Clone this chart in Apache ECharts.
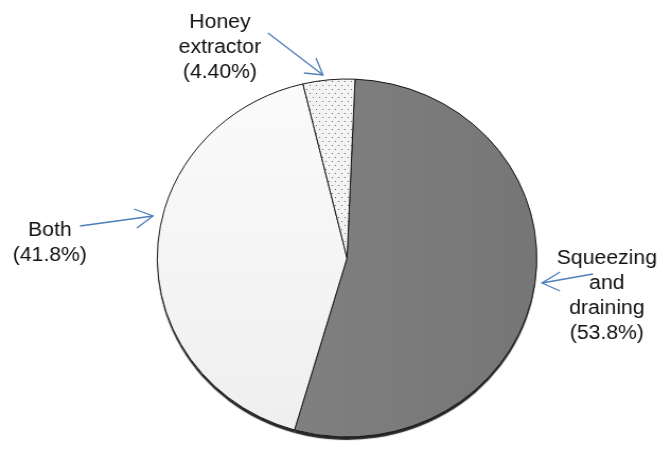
<!DOCTYPE html>
<html>
<head>
<meta charset="utf-8">
<script src="https://cdn.jsdelivr.net/npm/echarts@6/dist/echarts.min.js"></script>
<style>
  html, body { margin: 0; padding: 0; background: #fff; overflow: hidden; }
  /* the pie is slightly wider than tall, so the drawing is stretched horizontally */
  #chart { width: 632px; height: 450px; transform: scaleX(1.06); transform-origin: 0 0; }
</style>
</head>
<body>
<div id="chart"></div>
<script>
// Extraction methods
var categories = ['Squeezing\nand\ndraining', 'Both', 'Honey\nextractor'];
var shares = [53.8, 41.8, 4.4];
var shareDecimals = [1, 1, 2];

// label anchor points (chart coordinates, before the horizontal stretch)
var labelAnchors = [[572.5, 295.5], [47, 243], [207.5, 47.5]];

// callout arrows: [tail, tip, head arm 1, head arm 2]
var arrows = [
  [[559.4, 274], [511.3, 283], [528.3, 272], [528.3, 291]],
  [[75.5, 226], [144.3, 216], [126.4, 209], [129.2, 228]],
  [[252.8, 33], [304.7, 75], [286.8, 73], [298.1, 58]]
];

// dotted fill for the small slice
function dotPattern() {
  var c = document.createElement('canvas');
  c.width = 6; c.height = 8;
  var g = c.getContext('2d');
  g.fillStyle = '#f3f3f3';
  g.fillRect(0, 0, 6, 8);
  g.fillStyle = '#6a6a6a';
  g.fillRect(1, 1, 1, 1);
  g.fillRect(4, 5, 1, 1);
  return c;
}

var fills = [
  new echarts.graphic.LinearGradient(0, 0, 1, 0, [
    { offset: 0, color: '#808080' },
    { offset: 1, color: '#767676' }
  ]),
  new echarts.graphic.LinearGradient(0, 0, 0, 1, [
    { offset: 0, color: '#fbfbfb' },
    { offset: 1, color: '#efefef' }
  ]),
  { image: dotPattern(), repeat: 'repeat' }
];

var pieData = categories.map(function (name, i) {
  return { name: name, value: shares[i], itemStyle: { color: fills[i] } };
});

var arrowGraphics = [];
arrows.forEach(function (a) {
  var style = { stroke: '#4a7ebb', lineWidth: 1.3, fill: null };
  arrowGraphics.push({ type: 'polyline', shape: { points: [a[0], a[1]] }, style: style, silent: true });
  arrowGraphics.push({ type: 'polyline', shape: { points: [a[2], a[1], a[3]] }, style: style, silent: true });
});

var pieCommon = {
  type: 'pie',
  center: [327.4, 258],
  radius: 179,
  startAngle: 87.6,
  clockwise: true,
  avoidLabelOverlap: false,
  silent: true,
  emphasis: { disabled: true }
};

var chart = echarts.init(document.getElementById('chart'), null, { renderer: 'canvas' });
chart.setOption({
  backgroundColor: '#ffffff',
  animation: false,
  graphic: arrowGraphics,
  series: [
    // base layer: fills only, casting the dark lower rim
    Object.assign({}, pieCommon, {
      z: 1,
      data: pieData,
      itemStyle: {
        borderWidth: 0,
        shadowColor: 'rgba(0,0,0,0.85)',
        shadowBlur: 1,
        shadowOffsetX: 0,
        shadowOffsetY: 3
      },
      label: { show: false },
      labelLine: { show: false }
    }),
    // top layer: fills with outlines and the labels
    Object.assign({}, pieCommon, {
      z: 2,
      data: pieData,
      itemStyle: {
        borderColor: '#1a1a1a',
        borderWidth: 1
      },
      label: {
        show: true,
        position: 'outside',
        fontFamily: 'Liberation Sans, Arial, sans-serif',
        fontSize: 20,
        lineHeight: 25,
        color: '#111',
        align: 'center',
        formatter: function (p) {
          return p.name + '\n(' + shares[p.dataIndex].toFixed(shareDecimals[p.dataIndex]) + '%)';
        }
      },
      labelLine: { show: false },
      labelLayout: function (p) {
        var pt = labelAnchors[p.dataIndex];
        return { x: pt[0], y: pt[1], align: 'center', verticalAlign: 'middle' };
      }
    })
  ]
});
</script>
</body>
</html>
